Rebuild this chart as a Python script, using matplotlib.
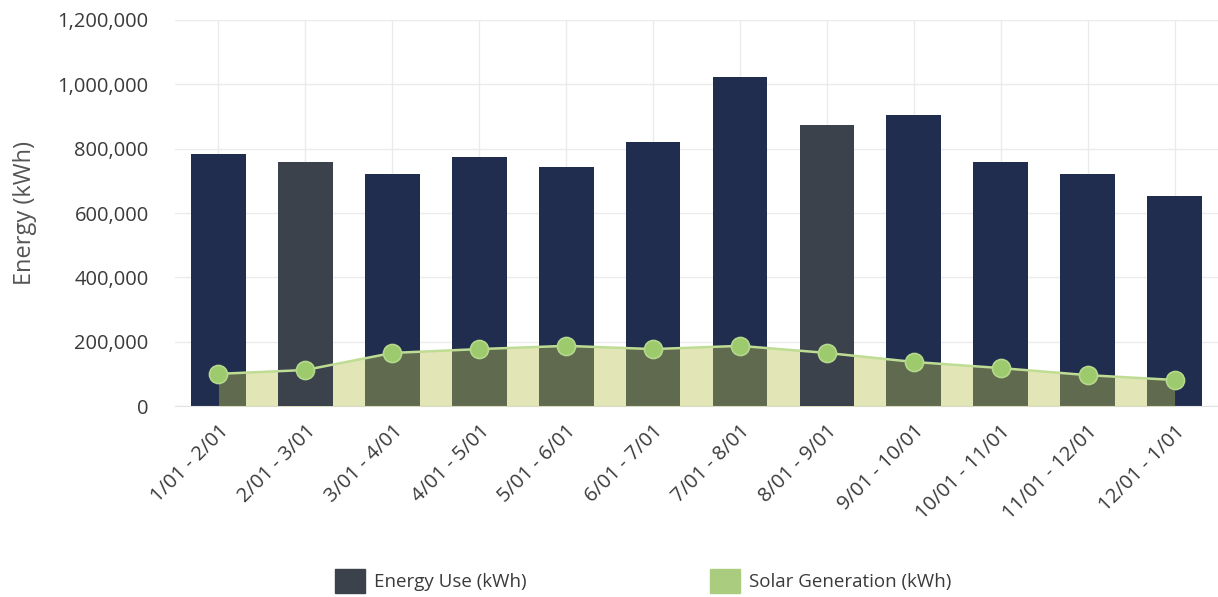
import matplotlib.pyplot as plt
from matplotlib.patches import Patch
from matplotlib.ticker import FuncFormatter

plt.rcParams['font.family'] = ['Open Sans', 'DejaVu Sans']

# billing periods and monthly totals (kWh)
periods = ['1/01 - 2/01', '2/01 - 3/01', '3/01 - 4/01', '4/01 - 5/01',
           '5/01 - 6/01', '6/01 - 7/01', '7/01 - 8/01', '8/01 - 9/01',
           '9/01 - 10/01', '10/01 - 11/01', '11/01 - 12/01', '12/01 - 1/01']
energy_use = [783000, 759000, 722000, 774000, 743000, 821000,
              1023000, 874000, 905000, 759000, 722000, 653000]
solar_gen = [100000, 112000, 165000, 177000, 187000, 177000,
             187000, 165000, 137000, 118000, 96000, 81000]
# periods shown with the grey highlight
highlighted = [1, 7]

navy = '#212d4f'
grey = '#3c424c'
area_color = '#b9c34e'
marker_color = '#9dca6c'
text_color = '#3a3a3a'

fig = plt.figure(figsize=(12.18, 5.97), dpi=100)
ax = fig.add_axes([0.1437, 0.3199, 0.8563, 0.6466])

x = list(range(len(periods)))
bar_w = 0.63

# regular bars sit under the solar area, highlighted ones on top of it
normal_x = [i for i in x if i not in highlighted]
ax.bar(normal_x, [energy_use[i] for i in normal_x], width=bar_w, color=navy, zorder=2)
ax.fill_between(x, solar_gen, 0, color=area_color, alpha=0.41, linewidth=0, zorder=3)
ax.bar(highlighted, [energy_use[i] for i in highlighted], width=bar_w, color=grey, zorder=4)
ax.plot(x, solar_gen, color='#bfdc94', linewidth=1.8, zorder=5)
ax.plot(x, solar_gen, 'o', markersize=13, color=marker_color,
        markeredgecolor='#b4d98c', markeredgewidth=1.2, zorder=6)

ax.set_xlim(-0.5, 11.5)
ax.set_ylim(0, 1200000)
ax.set_yticks(range(0, 1200001, 200000))
ax.yaxis.set_major_formatter(FuncFormatter(lambda v, p: f'{int(v):,}'))
ax.set_xticks(x)
ax.set_xticklabels(periods, rotation=45, ha='right', rotation_mode='anchor')

ax.grid(True, color='#ebebeb', linewidth=1, zorder=0)
ax.set_axisbelow(True)
for side in ['top', 'right', 'left']:
    ax.spines[side].set_visible(False)
ax.spines['bottom'].set_color('#e3e3e3')
ax.tick_params(axis='both', length=0, labelsize=14.5, colors=text_color)
ax.tick_params(axis='y', pad=19)
ax.tick_params(axis='x', pad=11)

ax.set_ylabel('Energy (kWh)', fontsize=17, color='#555555')
ax.yaxis.set_label_coords(-0.132, 0.5)

# legend entries placed separately under the plot
leg1 = fig.legend([Patch(color=grey)], ['Energy Use (kWh)'], loc='center left',
                  bbox_to_anchor=(335 / 1218, 0.027), frameon=False, fontsize=13.5,
                  handlelength=1.6, handleheight=1.6, handletextpad=0.5,
                  borderpad=0, borderaxespad=0, labelcolor=text_color)
leg2 = fig.legend([Patch(color='#a9cc7e')], ['Solar Generation (kWh)'], loc='center left',
                  bbox_to_anchor=(710 / 1218, 0.027), frameon=False, fontsize=13.5,
                  handlelength=1.6, handleheight=1.6, handletextpad=0.5,
                  borderpad=0, borderaxespad=0, labelcolor=text_color)

plt.savefig('out.png', dpi=100)
plt.close()
